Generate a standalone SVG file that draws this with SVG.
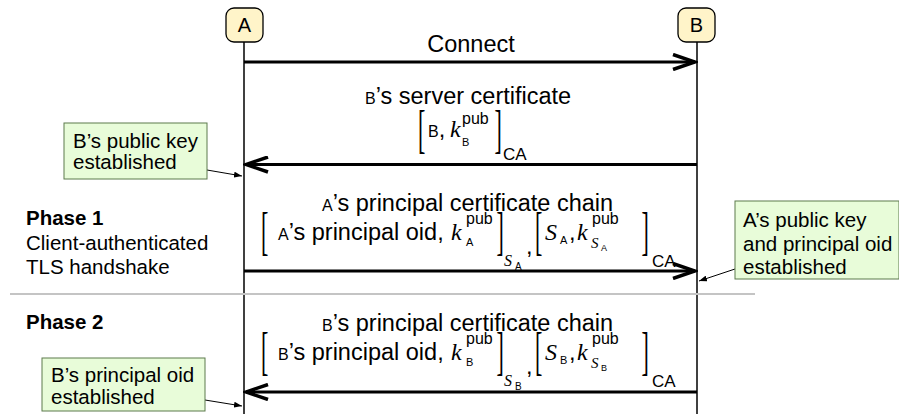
<svg xmlns="http://www.w3.org/2000/svg" width="899" height="414" viewBox="0 0 899 414">
<style>
text{font-family:"Liberation Sans",Arial,sans-serif;fill:#000}
.t{font-size:23.5px}
.lab{font-size:20.5px}
.sm{font-size:16px}
.b{font-weight:bold}
.it{font-family:"Liberation Serif","Times New Roman",serif;font-style:italic}
.br{font-family:"Liberation Serif","Times New Roman",serif;font-size:22px}
.sup{font-size:16px}
.ca{font-size:17px}
.sub{font-size:11px}
.node rect{fill:#fff4c9;stroke:#000;stroke-width:1.3}
.node text{font-size:20px}
.note rect{fill:#e8fcd9;stroke:#5d7a4c;stroke-width:1}
.life{stroke:#000;stroke-width:1.5}
.msg{stroke:#000;stroke-width:3.2;fill:none;marker-end:url(#big)}
.ptr{stroke:#000;stroke-width:1;marker-end:url(#small)}
.sep{stroke:#c4c4c4;stroke-width:2}
</style>
<defs>
<marker id="big" viewBox="0 0 26 18" refX="23" refY="9" markerWidth="26" markerHeight="18" markerUnits="userSpaceOnUse" orient="auto">
<path d="M1,1.5 L23,9 L1,16.5" fill="none" stroke="#000" stroke-width="3.5"/>
</marker>
<marker id="small" viewBox="0 0 8 6" refX="8" refY="3" markerWidth="8" markerHeight="6" markerUnits="userSpaceOnUse" orient="auto">
<path d="M0,0 L8,3 L0,6 Z" fill="#000"/>
</marker>
</defs>

<g id="lifelines">
<line class="life" x1="244" y1="42" x2="244" y2="414"/>
<line class="life" x1="697" y1="42" x2="697" y2="414"/>
</g>

<g id="nodeA" class="node">
<rect x="226" y="8" width="37" height="34" rx="8"/>
<text x="244.5" y="32" text-anchor="middle">A</text>
</g>
<g id="nodeB" class="node">
<rect x="678" y="8" width="37" height="34" rx="8"/>
<text x="696.5" y="32" text-anchor="middle">B</text>
</g>

<line class="sep" x1="10" y1="294" x2="755" y2="294"/>

<g id="connectors">
<line class="msg" x1="244" y1="62" x2="695" y2="62"/>
<line class="msg" x1="697" y1="164.5" x2="246" y2="164.5"/>
<line class="msg" x1="244" y1="271" x2="695" y2="271"/>
<line class="msg" x1="697" y1="392" x2="246" y2="392"/>
<line class="ptr" x1="207" y1="170" x2="242" y2="176"/>
<line class="ptr" x1="735" y1="269" x2="699" y2="281"/>
<line class="ptr" x1="205" y1="400" x2="242" y2="406"/>
</g>

<g id="msg1">
<text class="t" x="471" y="52" text-anchor="middle">Connect</text>
</g>

<g id="msg2">
<text x="365" y="104"><tspan class="sm">B</tspan><tspan class="t">’s server certificate</tspan></text>
<text class="br" transform="translate(418.1,146.8) scale(1,2.39)">[</text>
<text x="428" y="137"><tspan class="sm">B</tspan><tspan class="t">,</tspan></text>
<text class="it" font-size="24" x="450" y="137">k</text>
<text class="sup" x="462" y="124">pub</text>
<text class="sub" x="462" y="146">B</text>
<text class="br" transform="translate(494.6,146.8) scale(1,2.39)">]</text>
<text class="ca" x="503" y="160">CA</text>
</g>

<g id="msg3">
<text x="322" y="211"><tspan class="sm">A</tspan><tspan class="t">’s principal certificate chain</tspan></text>
<text class="br" transform="translate(261.1,248.6) scale(1,2.44)">[</text>
<text x="278" y="240"><tspan class="sm">A</tspan><tspan class="t">’s principal oid,</tspan></text>
<text class="it" font-size="24" x="451" y="240">k</text>
<text class="sup" x="466" y="224">pub</text>
<text class="sub" x="466" y="246">A</text>
<text class="br" transform="translate(496.6,248.6) scale(1,2.44)">]</text>
<text class="it" font-size="16" x="504" y="266">S</text>
<text font-size="10" x="515" y="270">A</text>
<text class="t" x="526" y="254">,</text>
<text class="br" transform="translate(535.1,248.6) scale(1,2.44)">[</text>
<text class="it" font-size="24" x="545" y="240">S</text>
<text class="sub" x="560" y="244">A</text>
<text class="t" x="569" y="240">,</text>
<text class="it" font-size="24" x="577" y="240">k</text>
<text class="sup" x="592" y="224">pub</text>
<text class="it" font-size="15" x="591" y="248">S</text>
<text font-size="9" x="601" y="251">A</text>
<text class="br" transform="translate(641.6,248.6) scale(1,2.44)">]</text>
<text class="ca" x="652" y="267">CA</text>
</g>

<g id="msg4">
<text x="322" y="331"><tspan class="sm">B</tspan><tspan class="t">’s principal certificate chain</tspan></text>
<text class="br" transform="translate(261.1,368.6) scale(1,2.44)">[</text>
<text x="278" y="360"><tspan class="sm">B</tspan><tspan class="t">’s principal oid,</tspan></text>
<text class="it" font-size="24" x="451" y="360">k</text>
<text class="sup" x="466" y="344">pub</text>
<text class="sub" x="466" y="366">B</text>
<text class="br" transform="translate(496.6,368.6) scale(1,2.44)">]</text>
<text class="it" font-size="16" x="504" y="386">S</text>
<text font-size="10" x="515" y="390">B</text>
<text class="t" x="526" y="374">,</text>
<text class="br" transform="translate(535.1,368.6) scale(1,2.44)">[</text>
<text class="it" font-size="24" x="545" y="360">S</text>
<text class="sub" x="560" y="364">B</text>
<text class="t" x="569" y="360">,</text>
<text class="it" font-size="24" x="577" y="360">k</text>
<text class="sup" x="592" y="344">pub</text>
<text class="it" font-size="15" x="591" y="368">S</text>
<text font-size="9" x="601" y="371">B</text>
<text class="br" transform="translate(641.6,368.6) scale(1,2.44)">]</text>
<text class="ca" x="652" y="387">CA</text>
</g>

<g id="phase1">
<text class="lab b" x="26" y="225">Phase 1</text>
<text class="lab" x="26" y="250">Client-authenticated</text>
<text class="lab" x="26" y="274">TLS handshake</text>
</g>
<g id="phase2">
<text class="lab b" x="26" y="329">Phase 2</text>
</g>

<g id="note1" class="note">
<rect x="64" y="123" width="143" height="56"/>
<text class="lab" x="73" y="148">B’s public key</text>
<text class="lab" x="73" y="169">established</text>
</g>
<g id="note2" class="note">
<rect x="735" y="201" width="164" height="78"/>
<text class="lab" x="743" y="227">A’s public key</text>
<text class="lab" x="743" y="251">and principal oid</text>
<text class="lab" x="743" y="274">established</text>
</g>
<g id="note3" class="note">
<rect x="42" y="358" width="163" height="53"/>
<text class="lab" x="51" y="382">B’s principal oid</text>
<text class="lab" x="51" y="404">established</text>
</g>
</svg>
